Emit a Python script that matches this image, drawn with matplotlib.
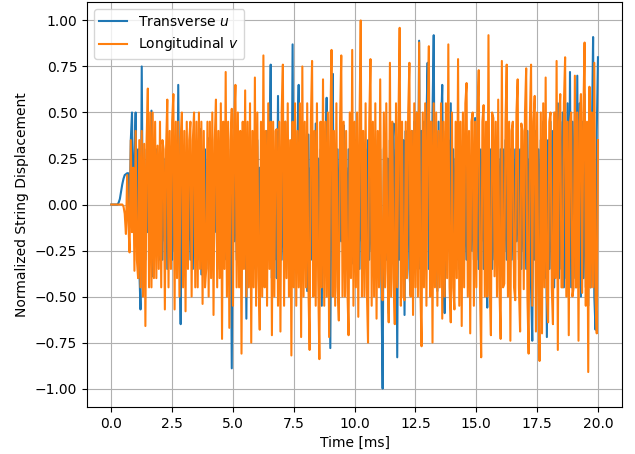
import numpy as np
import matplotlib
matplotlib.use("Agg")
import matplotlib.pyplot as plt

# samples every 0.05 ms (one row = 1 ms)
u_transverse = [
    0.00, 0.00, 0.00, 0.00, 0.00, 0.00, 0.01, 0.03, 0.07, 0.11, 0.14, 0.16, 0.165, 0.17, 0.17, -0.10, 0.35, 0.50, -0.15, 0.25,
    0.50, -0.20, 0.30, -0.35, -0.57, 0.75, -0.25, 0.20, -0.30, 0.30, -0.15, 0.25, -0.30, 0.51, -0.39, 0.20, -0.25, 0.30, -0.10, 0.25,
    -0.30, 0.15, -0.30, 0.25, -0.20, 0.25, -0.35, 0.30, -0.15, 0.20, -0.30, 0.30, -0.25, 0.15, -0.30, 0.65, -0.20, -0.65, 0.34, -0.15,
    0.25, -0.30, 0.25, -0.20, 0.15, -0.30, 0.25, -0.35, 0.30, -0.10, 0.20, -0.30, 0.30, 0.41, -0.38, 0.20, -0.25, 0.30, -0.35, 0.15,
    0.36, -0.30, 0.20, -0.35, 0.25, -0.15, 0.30, -0.30, 0.20, -0.35, 0.30, -0.20, 0.35, -0.30, 0.15, -0.25, 0.30, -0.35, 0.20, -0.89,
    0.30, -0.20, 0.30, -0.30, 0.35, -0.15, 0.25, -0.30, 0.20, -0.30, 0.35, -0.62, 0.30, -0.20, 0.35, -0.30, 0.15, -0.35, 0.30, -0.25,
    0.35, -0.30, 0.20, -0.30, 0.35, -0.20, 0.30, -0.35, 0.40, -0.25, 0.30, 0.76, -0.40, 0.25, -0.30, 0.20, -0.40, 0.59, -0.25, 0.30,
    -0.30, 0.20, -0.30, 0.45, -0.20, 0.30, -0.35, 0.25, -0.30, 0.87, -0.35, 0.30, -0.25, 0.35, 0.65, -0.30, 0.20, -0.35, 0.30, -0.20,
    0.30, -0.47, 0.38, -0.25, 0.20, -0.30, 0.30, -0.20, 0.44, -0.30, 0.25, -0.35, 0.30, -0.55, 0.30, -0.25, 0.20, 0.58, -0.30, 0.25,
    -0.78, 0.30, 0.71, -0.30, 0.20, -0.30, 0.30, -0.35, 0.25, -0.20, 0.30, 0.43, -0.30, 0.20, -0.30, 0.30, -0.25, 0.30, -0.32, 0.25,
    -0.30, 0.35, -0.25, 0.30, -0.35, 0.30, -0.20, 0.25, -0.35, 0.30, -0.30, 0.35, -0.30, 0.20, -0.25, 0.30, -0.35, 0.30, -0.20, 0.35,
    -0.30, 0.30, -0.45, -1.00, 0.30, 0.38, -0.30, 0.25, -0.59, 0.35, -0.25, 0.30, 0.44, -0.40, 0.30, -0.83, 0.35, -0.30, 0.35, -0.25,
    0.35, -0.60, 0.40, -0.30, 0.45, -0.35, -0.49, 0.40, -0.30, 0.45, -0.35, 0.50, -0.25, 0.89, -0.35, 0.40, -0.30, 0.45, -0.35, 0.45,
    0.77, -0.35, 0.45, -0.30, 0.50, 0.92, -0.40, 0.40, -0.47, 0.45, -0.30, 0.40, 0.65, -0.35, -0.59, 0.40, -0.30, 0.35, -0.25, 0.55,
    -0.30, 0.30, -0.35, 0.25, -0.30, 0.30, -0.35, 0.30, -0.20, 0.35, -0.30, 0.25, -0.30, 0.30, -0.35, 0.20, -0.25, 0.30, -0.30, 0.47,
    -0.30, 0.25, -0.35, 0.30, -0.20, 0.30, -0.35, 0.25, -0.30, -0.56, 0.30, -0.25, 0.30, -0.35, 0.20, -0.30, 0.35, -0.30, 0.25, -0.20,
    0.30, -0.35, 0.30, -0.25, 0.35, -0.30, 0.20, -0.35, 0.30, -0.30, 0.25, -0.35, 0.30, -0.20, 0.35, -0.30, 0.30, -0.35, 0.30, -0.25,
    0.30, -0.35, 0.40, -0.35, 0.25, -0.45, -0.74, 0.35, -0.30, 0.40, -0.35, 0.30, -0.45, 0.35, -0.35, 0.45, -0.40, 0.35, -0.72, 0.35,
    -0.35, 0.45, -0.35, 0.40, -0.45, 0.50, -0.35, 0.55, -0.40, 0.45, -0.35, 0.50, -0.45, 0.40, -0.40, 0.55, -0.50, 0.72, -0.45, 0.45,
    -0.40, 0.50, -0.45, 0.70, -0.45, 0.55, -0.50, 0.45, -0.40, 0.60, -0.45, 0.40, -0.55, 0.50, -0.45, 0.38, 0.91, -0.50, -0.68, 0.40,
    0.80,
]

v_longitudinal = [
    0.00, 0.00, 0.00, 0.00, 0.00, 0.00, 0.00, 0.00, 0.00, 0.00, -0.01, -0.05, -0.16, 0.16, -0.10, -0.26, 0.35, -0.15, 0.20, -0.36,
    0.40, -0.30, -0.40, 0.35, -0.45, 0.40, -0.50, 0.33, -0.66, 0.35, 0.63, -0.45, 0.50, -0.45, 0.50, -0.40, 0.45, -0.40, 0.32, -0.35,
    0.45, -0.45, 0.35, 0.30, -0.57, 0.30, 0.57, -0.45, 0.40, -0.35, 0.45, 0.60, -0.57, 0.45, -0.40, 0.45, -0.50, 0.35, 0.50, -0.45,
    0.40, -0.58, 0.45, -0.35, 0.35, 0.45, -0.50, 0.35, 0.50, -0.45, 0.45, -0.45, 0.50, -0.35, 0.45, -0.54, 0.40, -0.45, -0.35, 0.45,
    -0.50, 0.45, -0.40, 0.50, -0.60, 0.35, 0.57, -0.45, 0.40, -0.40, 0.55, -0.73, 0.45, -0.35, 0.72, -0.50, 0.45, -0.67, 0.35, 0.52,
    -0.55, 0.45, 0.65, -0.45, 0.50, -0.45, 0.40, -0.81, 0.45, -0.35, 0.62, -0.50, 0.45, -0.45, 0.55, -0.75, 0.40, -0.45, 0.69, -0.55,
    0.50, -0.40, -0.68, 0.45, -0.50, 0.81, -0.45, 0.40, -0.55, 0.55, -0.35, 0.45, -0.71, 0.45, -0.50, 0.40, 0.41, -0.55, 0.45, -0.69,
    0.50, 0.76, -0.55, 0.45, -0.40, 0.55, -0.50, 0.35, -0.82, 0.45, -0.45, 0.55, -0.55, 0.40, -0.45, 0.55, -0.72, 0.75, -0.50, 0.45,
    -0.45, 0.55, -0.45, -0.79, 0.45, 0.78, -0.50, 0.40, -0.55, 0.55, -0.40, -0.84, 0.45, -0.45, 0.68, -0.55, 0.45, -0.50, 0.50, -0.72,
    0.45, 0.84, -0.50, 0.40, -0.55, 0.55, -0.45, -0.63, 0.45, 0.81, -0.50, 0.45, -0.50, 0.40, -0.45, -0.71, 0.50, -0.40, 0.84, -0.55,
    0.45, -0.45, 0.50, -0.61, 0.45, 1.00, -0.50, 0.40, -0.50, 0.55, -0.45, -0.75, 0.45, 0.79, -0.55, 0.45, -0.50, 0.55, -0.62, 0.40,
    -0.45, 0.68, -0.40, -0.52, 0.50, -0.45, 0.55, -0.35, -0.64, 0.77, -0.50, 0.45, -0.40, -0.65, 0.55, -0.45, 0.45, 0.96, -0.55, 0.45,
    -0.50, -0.52, 0.45, -0.40, 0.50, 0.77, -0.50, 0.40, -0.60, 0.55, -0.45, 0.50, -0.50, 0.88, -0.45, -0.77, 0.50, -0.45, 0.55, -0.55,
    0.45, 0.86, -0.50, 0.45, -0.75, 0.55, -0.45, 0.50, -0.55, 0.40, -0.45, 0.55, -0.62, 0.45, -0.50, 0.55, -0.40, 0.87, -0.45, -0.64,
    0.50, -0.45, -0.57, 0.45, -0.40, 0.79, -0.55, 0.45, -0.66, 0.50, -0.45, 0.55, 0.66, -0.50, 0.40, -0.70, 0.45, 0.50, -0.55, 0.45,
    -0.45, 0.50, 0.73, -0.45, -0.83, 0.45, 0.54, -0.50, 0.45, -0.50, 0.92, -0.45, -0.71, 0.50, 0.47, -0.39, 0.45, -0.50, 0.57, -0.45,
    -0.73, 0.78, -0.45, -0.43, 0.45, 0.76, -0.50, 0.45, -0.74, 0.40, 0.45, -0.45, -0.52, 0.50, 0.68, -0.45, -0.69, 0.44, 0.40, -0.46,
    0.50, 0.74, -0.50, -0.81, 0.45, 0.76, -0.55, 0.45, 0.59, -0.69, 0.50, -0.45, -0.85, 0.50, -0.70, 0.55, -0.45, 0.69, -0.50, -0.64,
    0.45, 0.50, -0.45, -0.65, 0.50, -0.40, 0.78, -0.79, 0.45, 0.60, -0.45, -0.45, 0.55, 0.80, -0.50, 0.45, -0.71, 0.45, 0.50, -0.50,
    -0.45, 0.70, -0.45, 0.50, -0.74, 0.45, 0.60, -0.48, 0.50, 0.88, -0.55, 0.45, -0.91, 0.64, -0.45, 0.50, -0.45, 0.77, -0.50, -0.70,
    0.35,
]

t_u = np.linspace(0, 20, len(u_transverse))
t_v = np.linspace(0, 20, len(v_longitudinal))

fig = plt.figure(figsize=(6.35, 4.54), dpi=100)
ax = fig.add_axes([0.137, 0.1035, 0.843, 0.892])

ax.plot(t_u, u_transverse, label='Transverse $u$')
ax.plot(t_v, v_longitudinal, label='Longitudinal $v$')

ax.set_xlabel('Time [ms]')
ax.set_ylabel('Normalized String Displacement')
ax.set_yticks(np.arange(-1.0, 1.01, 0.25))
ax.grid(True)
ax.legend(loc='upper left')

fig.savefig('out.png', dpi=100)
